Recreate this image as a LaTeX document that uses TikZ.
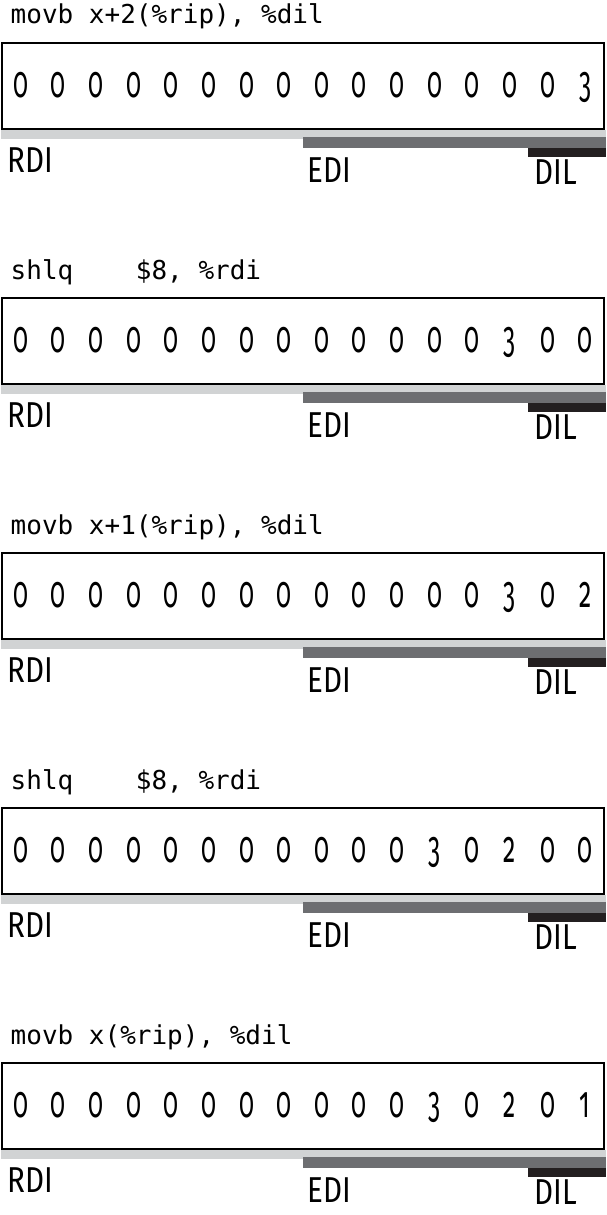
\documentclass[tikz,border=0pt]{standalone}
\usepackage{fontspec}
\setmainfont{Fira Sans}
\setmonofont{DejaVu Sans Mono}
\newfontfamily\digitfont[Numbers=OldStyle,FakeStretch=0.56]{Fira Sans}
\newfontfamily\regfont[FakeStretch=0.82]{Fira Sans}
\usetikzlibrary{matrix,
	calc,
	positioning}
\definecolor{rdigray}{RGB}{209,211,212}
\definecolor{edigray}{RGB}{109,110,113}
\definecolor{dilblack}{RGB}{35,31,32}
\tikzstyle{register}=[matrix of nodes, ampersand replacement=\&, draw, line width=2pt,
	inner sep=0, nodes={inner sep=0, minimum width=37.625pt, minimum height=86pt,
	text height=22pt, text depth=0pt, font=\fontsize{44}{44}\selectfont\digitfont}]
\tikzstyle{instr}=[inner sep=0, font=\fontsize{26}{26}\selectfont\ttfamily]
\tikzstyle{reglabel}=[inner sep=0, anchor=base west, text depth=0pt,
	font=\fontsize{36}{36}\selectfont\regfont]

\begin{document}
\begin{tikzpicture}[x=1pt, y=1pt]
            \useasboundingbox (0,0) rectangle (606,-1215);
            \matrix (m1) at (303,-86) [register] {
                0 \& 0 \& 0 \& 0 \& 0 \& 0 \& 0 \& 0 \& 0 \& 0 \& 0 \& 0 \& 0 \& 0 \& 0 \& 3 \\
            };
            \matrix (m2) at (303,-341) [register] {
                0 \& 0 \& 0 \& 0 \& 0 \& 0 \& 0 \& 0 \& 0 \& 0 \& 0 \& 0 \& 0 \& 3 \& 0 \& 0 \\
            };
            \matrix (m3) at (303,-596) [register] {
                0 \& 0 \& 0 \& 0 \& 0 \& 0 \& 0 \& 0 \& 0 \& 0 \& 0 \& 0 \& 0 \& 3 \& 0 \& 2 \\
            };
            \matrix (m4) at (303,-851) [register] {
                0 \& 0 \& 0 \& 0 \& 0 \& 0 \& 0 \& 0 \& 0 \& 0 \& 0 \& 3 \& 0 \& 2 \& 0 \& 0 \\
            };
            \matrix (m5) at (303,-1106) [register] {
                0 \& 0 \& 0 \& 0 \& 0 \& 0 \& 0 \& 0 \& 0 \& 0 \& 0 \& 3 \& 0 \& 2 \& 0 \& 1 \\
            };
            \node[instr, above right=18pt and 9.5pt of m1.north west, anchor=base west] (c1) {movb x+2(\%rip), \%dil};
            \node[instr, above right=18pt and 9.5pt of m2.north west, anchor=base west] (c2) {shlq\ \ \ \ \$8, \%rdi};
            \node[instr, above right=18pt and 9.5pt of m3.north west, anchor=base west] (c3) {movb x+1(\%rip), \%dil};
            \node[instr, above right=18pt and 9.5pt of m4.north west, anchor=base west] (c4) {shlq\ \ \ \ \$8, \%rdi};
            \node[instr, above right=18pt and 9.5pt of m5.north west, anchor=base west] (c5) {movb x(\%rip), \%dil};
            % register parts under each box
            \foreach \m in {m1,m2,m3,m4,m5} {
                \fill[rdigray] (\m.south west) rectangle ($(\m.south east)+(1,-9)$);
                \fill[edigray] ($(\m.south)+(-0.4,-7)$) rectangle ($(\m.south east)+(1,-18)$);
                \fill[dilblack] ($(\m.south east)+(-76.7,-18)$) rectangle ($(\m.south east)+(1,-27)$);
                \node[reglabel] (\m-rdi) at ($(\m.south west)+(6,-42)$) {RDI};
                \node[reglabel] (\m-edi) at ($(\m.south)+(4.6,-52)$) {EDI};
                \node[reglabel] (\m-dil) at ($(\m.south east)+(-70.7,-54)$) {DIL};
            }
        \end{tikzpicture}
\end{document}
